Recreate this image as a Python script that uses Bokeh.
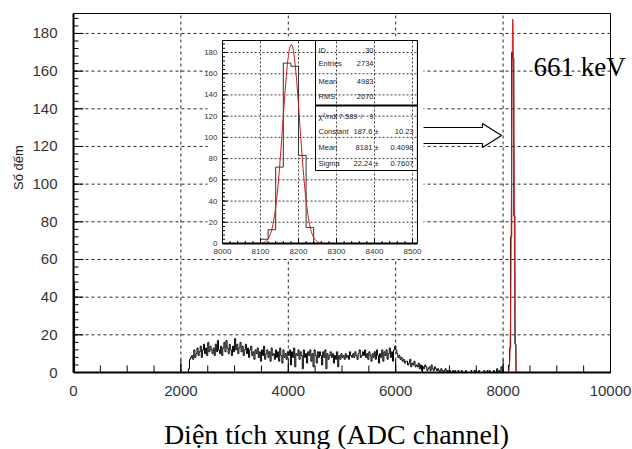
import numpy as np
from bokeh.plotting import figure
from bokeh.models import Range1d
from bokeh.core.properties import value
from bokeh.embed import file_html
from bokeh.resources import INLINE

# ---------------- data ----------------
BIN_WIDTH = 20
N_BINS = 500
first_bin_count = 48
continuum_start = 2140
continuum_counts = [
    2, 7, 8,
    9, 7, 12, 8, 10, 13, 9, 11, 14, 8,
    12, 15, 10, 13, 9, 16, 11, 14, 12, 10,
    13, 9, 15, 11, 17, 12, 10, 14, 9, 13,
    16, 11, 17, 13, 10, 15, 12, 9, 14, 11,
    18, 12, 15, 10, 13, 16, 11, 14, 9, 12,
    15, 10, 13, 8, 12, 14, 9, 11, 7, 12,
    10, 13, 8, 11, 6, 12, 9, 14, 7, 10,
    12, 8, 11, 6, 13, 9, 10, 7, 12, 8,
    11, 6, 13, 9, 5, 12, 8, 10, 7, 11,
    9, 12, 4, 11, 8, 13, 3, 10, 9, 12,
    7, 11, 9, 2, 12, 8, 10, 5, 11, 9,
    12, 6, 10, 3, 12, 9, 5, 11, 8, 11,
    9, 4, 11, 8, 12, 2, 10, 7, 9, 11,
    8, 10, 5, 9, 7, 11, 3, 9, 7, 10,
    8, 9, 7, 10, 8, 9, 7, 11, 9, 8,
    10, 8, 11, 9, 7, 10, 12, 8, 9, 11,
    9, 12, 8, 10, 7, 11, 9, 6, 10, 8,
    11, 7, 12, 9, 5, 10, 8, 12, 6, 11,
    9, 12, 7, 10, 13, 8, 11, 6, 12, 14,
    12, 10, 8, 9, 7, 8, 6, 7, 5, 6,
    6, 4, 5, 7, 3, 5, 4, 6, 3, 4,
    3, 5, 2, 4, 1, 3, 2, 4, 3, 1,
    2, 3, 1, 4, 2, 1, 3, 2, 1, 2,
    1, 0, 2, 1, 0, 1, 2, 0, 1, 0,
    1, 0, 0, 1, 0, 1, 0, 0, 1, 0,
    0, 1, 0, 0, 0, 1, 0, 0, 0, 0,
    1, 0, 0, 1, 1, 0, 0, 1, 0, 0,
    0, 0, 1, 0, 0, 1, 0, 1, 0, 0,
    0, 1, 0, 0, 2, 0, 1, 0, 3, 1,
    0, 0, 0, 0, 0,
]
peak_start = 8100
peak_counts = [4, 13, 72, 170, 167, 83, 15]

fit_constant = 187.6
fit_mean = 8181.0
fit_sigma = 22.24
fit_lo, fit_hi = 8095, 8265

x_min, x_max = 0, 10000
y_min, y_max = 0, 190.6
x_ticks = [0, 2000, 4000, 6000, 8000, 10000]
x_minor_step = 500
y_ticks = [0, 20, 40, 60, 80, 100, 120, 140, 160, 180]
y_minor_step = 4

ix_min, ix_max = 8000, 8513
iy_min, iy_max = 0, 191.3
inset_x_ticks = [8000, 8100, 8200, 8300, 8400, 8500]
inset_x_minor_step = 20
inset_y_ticks = [0, 20, 40, 60, 80, 100, 120, 140, 160, 180]
inset_y_minor_step = 4

stats_labels = ["ID", "Entries", "Mean", "RMS"]
stats_values = ["30", "2734", "4983", "2070"]
chi2_label = "\u03c7\u00b2/ndf"
chi2_parts = ["7.589", "/", "9"]
fit_labels = ["Constant", "Mean", "Sigma"]
fit_values = ["187.6 \u00b1", "8181 \u00b1", "22.24 \u00b1"]
fit_errors = ["10.23", "0.4098", "0.7607"]

x_title = "Diện tích xung (ADC channel)"
y_title = "Số đếm"
peak_label = "661 keV"

# ---------------- layout (pixels in the 632x449 canvas) ----------------
W, H = 632, 449
PX0, PX1 = 73, 610       # main frame left/right
PY0, PY1 = 372, 13       # main frame bottom/top
IPX0, IPX_PER = 222, 0.38   # inset: pixel of x=8000, px per channel
IPY0, IPY_PER = 243, 1.0611  # inset: pixel of y=0, px per count

sx = (PX1 - PX0) / (x_max - x_min)
sy = (PY0 - PY1) / (y_max - y_min)


def mx(px):  # main: pixel x -> data x
    return x_min + (px - PX0) / sx


def my(py):  # main: pixel y -> data y
    return y_min + (PY0 - py) / sy


def ixp(px):
    return 8000 + (px - IPX0) / IPX_PER


def iyp(py):
    return (IPY0 - py) / IPY_PER


# ---------------- histogram outline ----------------
counts = np.zeros(N_BINS)
counts[0] = first_bin_count
i0 = continuum_start // BIN_WIDTH
counts[i0:i0 + len(continuum_counts)] = continuum_counts
j0 = peak_start // BIN_WIDTH
counts[j0:j0 + len(peak_counts)] = peak_counts
edges = np.arange(N_BINS + 1) * BIN_WIDTH


def outline(e, c):
    xs = np.repeat(e, 2)
    ys = np.concatenate([[0], np.repeat(c, 2), [0]])
    return xs, ys


def gauss(x):
    return fit_constant * np.exp(-0.5 * ((x - fit_mean) / fit_sigma) ** 2)


SANS = "Liberation Sans"
SERIF = "Liberation Serif"

p = figure(width=W, height=H,
           x_range=Range1d(mx(0), mx(W)), y_range=Range1d(my(H), my(0)),
           output_backend="svg", toolbar_location=None,
           x_axis_type=None, y_axis_type=None,
           min_border=0, min_border_left=0, min_border_right=0,
           min_border_top=0, min_border_bottom=0)
p.background_fill_color = "white"
p.border_fill_color = "white"
p.outline_line_color = None
p.xgrid.visible = False
p.ygrid.visible = False

# ---- main grid ----
gx_v = x_ticks[1:-1]
p.segment(x0=gx_v, y0=[y_min] * len(gx_v), x1=gx_v, y1=[y_max] * len(gx_v),
          line_color="black", line_dash="3 3", line_width=1, line_alpha=0.85)
gy_h = y_ticks[1:]
p.segment(x0=[x_min] * len(gy_h), y0=gy_h, x1=[x_max] * len(gy_h), y1=gy_h,
          line_color="black", line_dash="3 3", line_width=1, line_alpha=0.85)

# ---- main histogram and fit ----
hx, hy = outline(edges, counts)
p.line(hx, hy, line_color="black", line_width=1)
gxx = np.linspace(fit_lo, fit_hi, 120)
p.line(gxx, gauss(gxx), line_color="#d01818", line_width=1)

# ---- main frame, ticks, tick labels ----
p.quad(left=[x_min], right=[x_max], bottom=[y_min], top=[y_max], fill_color=None,
       line_color="black", line_width=1)
p.segment(x0=[x_min, x_min], y0=[y_min, y_min], x1=[x_max, x_min], y1=[y_min, y_max],
          line_color="black", line_width=2)
xminor = list(range(x_min, x_max + 1, x_minor_step))
p.segment(x0=xminor, y0=[0] * len(xminor), x1=xminor, y1=[7 / sy] * len(xminor),
          line_color="black", line_width=1)
p.segment(x0=x_ticks, y0=[0] * len(x_ticks), x1=x_ticks, y1=[13 / sy] * len(x_ticks),
          line_color="black", line_width=1)
yminor = list(range(0, int(y_max) + 1, y_minor_step))
p.segment(x0=[0] * len(yminor), y0=yminor, x1=[5 / sx] * len(yminor), y1=yminor,
          line_color="black", line_width=1)
p.segment(x0=[0] * len(y_ticks), y0=y_ticks, x1=[10 / sx] * len(y_ticks), y1=y_ticks,
          line_color="black", line_width=1)
p.text(x=x_ticks, y=[my(390)] * len(x_ticks), text=[str(t) for t in x_ticks],
       text_align="center", text_baseline="middle", text_font=value(SANS),
       text_font_size="15px", text_color="#333333")
p.text(x=[mx(57)] * len(y_ticks), y=y_ticks, text=[str(t) for t in y_ticks],
       text_align="right", text_baseline="middle", text_font=value(SANS),
       text_font_size="15px", text_color="#333333")

# ---- titles ----
p.text(x=[mx(336)], y=[my(434)], text=[x_title], text_align="center",
       text_baseline="middle", text_font=value(SERIF), text_font_size="28px",
       text_color="black")
p.text(x=[mx(18)], y=[my(167)], text=[y_title], angle=np.pi / 2,
       text_align="center", text_baseline="middle", text_font=value(SANS),
       text_font_size="13px", text_color="#222222")
p.text(x=[mx(533)], y=[my(66)], text=[peak_label], text_align="left",
       text_baseline="middle", text_font=value(SERIF), text_font_size="27px",
       text_color="black")

# ---- arrow pointing at the peak ----
ax0, axh, axt = mx(420), mx(482), mx(501)
ay_s0, ay_s1, ay_h0, ay_h1, ay_t = my(127), my(143), my(123), my(147), my(135)
p.patch([ax0, axh, axh, axt, axh, axh, ax0], [ay_s0, ay_s0, ay_h0, ay_t, ay_h1, ay_s1, ay_s1],
        fill_color="white", line_color="black", line_width=1.2)

# ---------------- inset (zoom on the peak) ----------------
p.extra_x_ranges = {"ix": Range1d(ixp(0), ixp(W))}
p.extra_y_ranges = {"iy": Range1d(iyp(H), iyp(0))}
IX, IY = "ix", "iy"
kw = dict(x_range_name=IX, y_range_name=IY)

p.quad(left=[ixp(207)], right=[ixp(423)], bottom=[iyp(258)], top=[iyp(36)],
       fill_color="white", line_color=None, **kw)

igx = inset_x_ticks[1:]
p.segment(x0=igx, y0=[iy_min] * len(igx), x1=igx, y1=[iy_max] * len(igx),
          line_color="#444444", line_dash="2 2", line_width=1, **kw)
igy = inset_y_ticks[1:]
p.segment(x0=[ix_min] * len(igy), y0=igy, x1=[ix_max] * len(igy), y1=igy,
          line_color="#444444", line_dash="2 2", line_width=1, **kw)

k0, k1 = ix_min // BIN_WIDTH, 8500 // BIN_WIDTH
ex, ey = outline(edges[k0:k1 + 1], counts[k0:k1])
p.line(ex, ey, line_color="#333333", line_width=1, **kw)
p.line(gxx, gauss(gxx), line_color="#d01818", line_width=1, **kw)

p.quad(left=[ix_min], right=[ix_max], bottom=[iy_min], top=[iy_max], fill_color=None,
       line_color="black", line_width=1, **kw)
p.segment(x0=[ix_min], y0=[iy_min], x1=[ix_max], y1=[iy_min], line_color="black",
          line_width=2, **kw)
imx = list(range(ix_min, ix_max, inset_x_minor_step))
p.segment(x0=imx, y0=[0] * len(imx), x1=imx, y1=[2.5 / IPY_PER] * len(imx),
          line_color="black", **kw)
p.segment(x0=inset_x_ticks, y0=[0] * len(inset_x_ticks), x1=inset_x_ticks,
          y1=[5 / IPY_PER] * len(inset_x_ticks), line_color="black", **kw)
imy = list(range(0, int(iy_max) + 1, inset_y_minor_step))
p.segment(x0=[ix_min] * len(imy), y0=imy, x1=[ix_min + 2.5 / IPX_PER] * len(imy), y1=imy,
          line_color="black", **kw)
p.segment(x0=[ix_min] * len(inset_y_ticks), y0=inset_y_ticks,
          x1=[ix_min + 5 / IPX_PER] * len(inset_y_ticks), y1=inset_y_ticks,
          line_color="black", **kw)

p.text(x=inset_x_ticks, y=[iyp(251)] * len(inset_x_ticks),
       text=[str(t) for t in inset_x_ticks],
       text_align="center", text_baseline="middle", text_font=value(SANS),
       text_font_size="8px", text_color="#333333", **kw)
p.text(x=[ixp(217)] * len(inset_y_ticks), y=inset_y_ticks,
       text=[str(t) for t in inset_y_ticks],
       text_align="right", text_baseline="middle", text_font=value(SANS),
       text_font_size="8px", text_color="#333333", **kw)

# stats box
sb_l, sb_r, sb_b, sb_sep = ixp(315), ix_max, iyp(170), iyp(105)
p.quad(left=[sb_l], right=[sb_r], bottom=[sb_b], top=[iy_max], fill_color=None,
       line_color="black", line_width=1, **kw)
p.segment(x0=[sb_l], y0=[sb_sep], x1=[sb_r], y1=[sb_sep], line_color="black",
          line_width=2, **kw)
row_y_top = [iyp(v) for v in (50, 63, 81, 96)]
row_y_chi = iyp(116)
row_y_fit = [iyp(v) for v in (131, 147, 163)]
common = dict(text_font=value(SANS), text_font_size="7.5px", text_color="#222222",
              text_baseline="middle", **kw)
p.text(x=[ixp(318)] * 4, y=row_y_top, text=stats_labels, text_align="left", **common)
p.text(x=[ixp(373)] * 4, y=row_y_top, text=stats_values, text_align="right", **common)
p.text(x=[ixp(318)], y=[row_y_chi], text=[chi2_label], text_align="left", **common)
p.text(x=[ixp(357), ixp(362), ixp(373)], y=[row_y_chi] * 3, text=chi2_parts,
       text_align="right", **common)
p.text(x=[ixp(318)] * 3, y=row_y_fit, text=fit_labels, text_align="left", **common)
p.text(x=[ixp(378)] * 3, y=row_y_fit, text=fit_values, text_align="right", **common)
p.text(x=[ixp(413)] * 3, y=row_y_fit, text=fit_errors, text_align="right", **common)

open("out.html", "w").write(file_html(p, INLINE))
